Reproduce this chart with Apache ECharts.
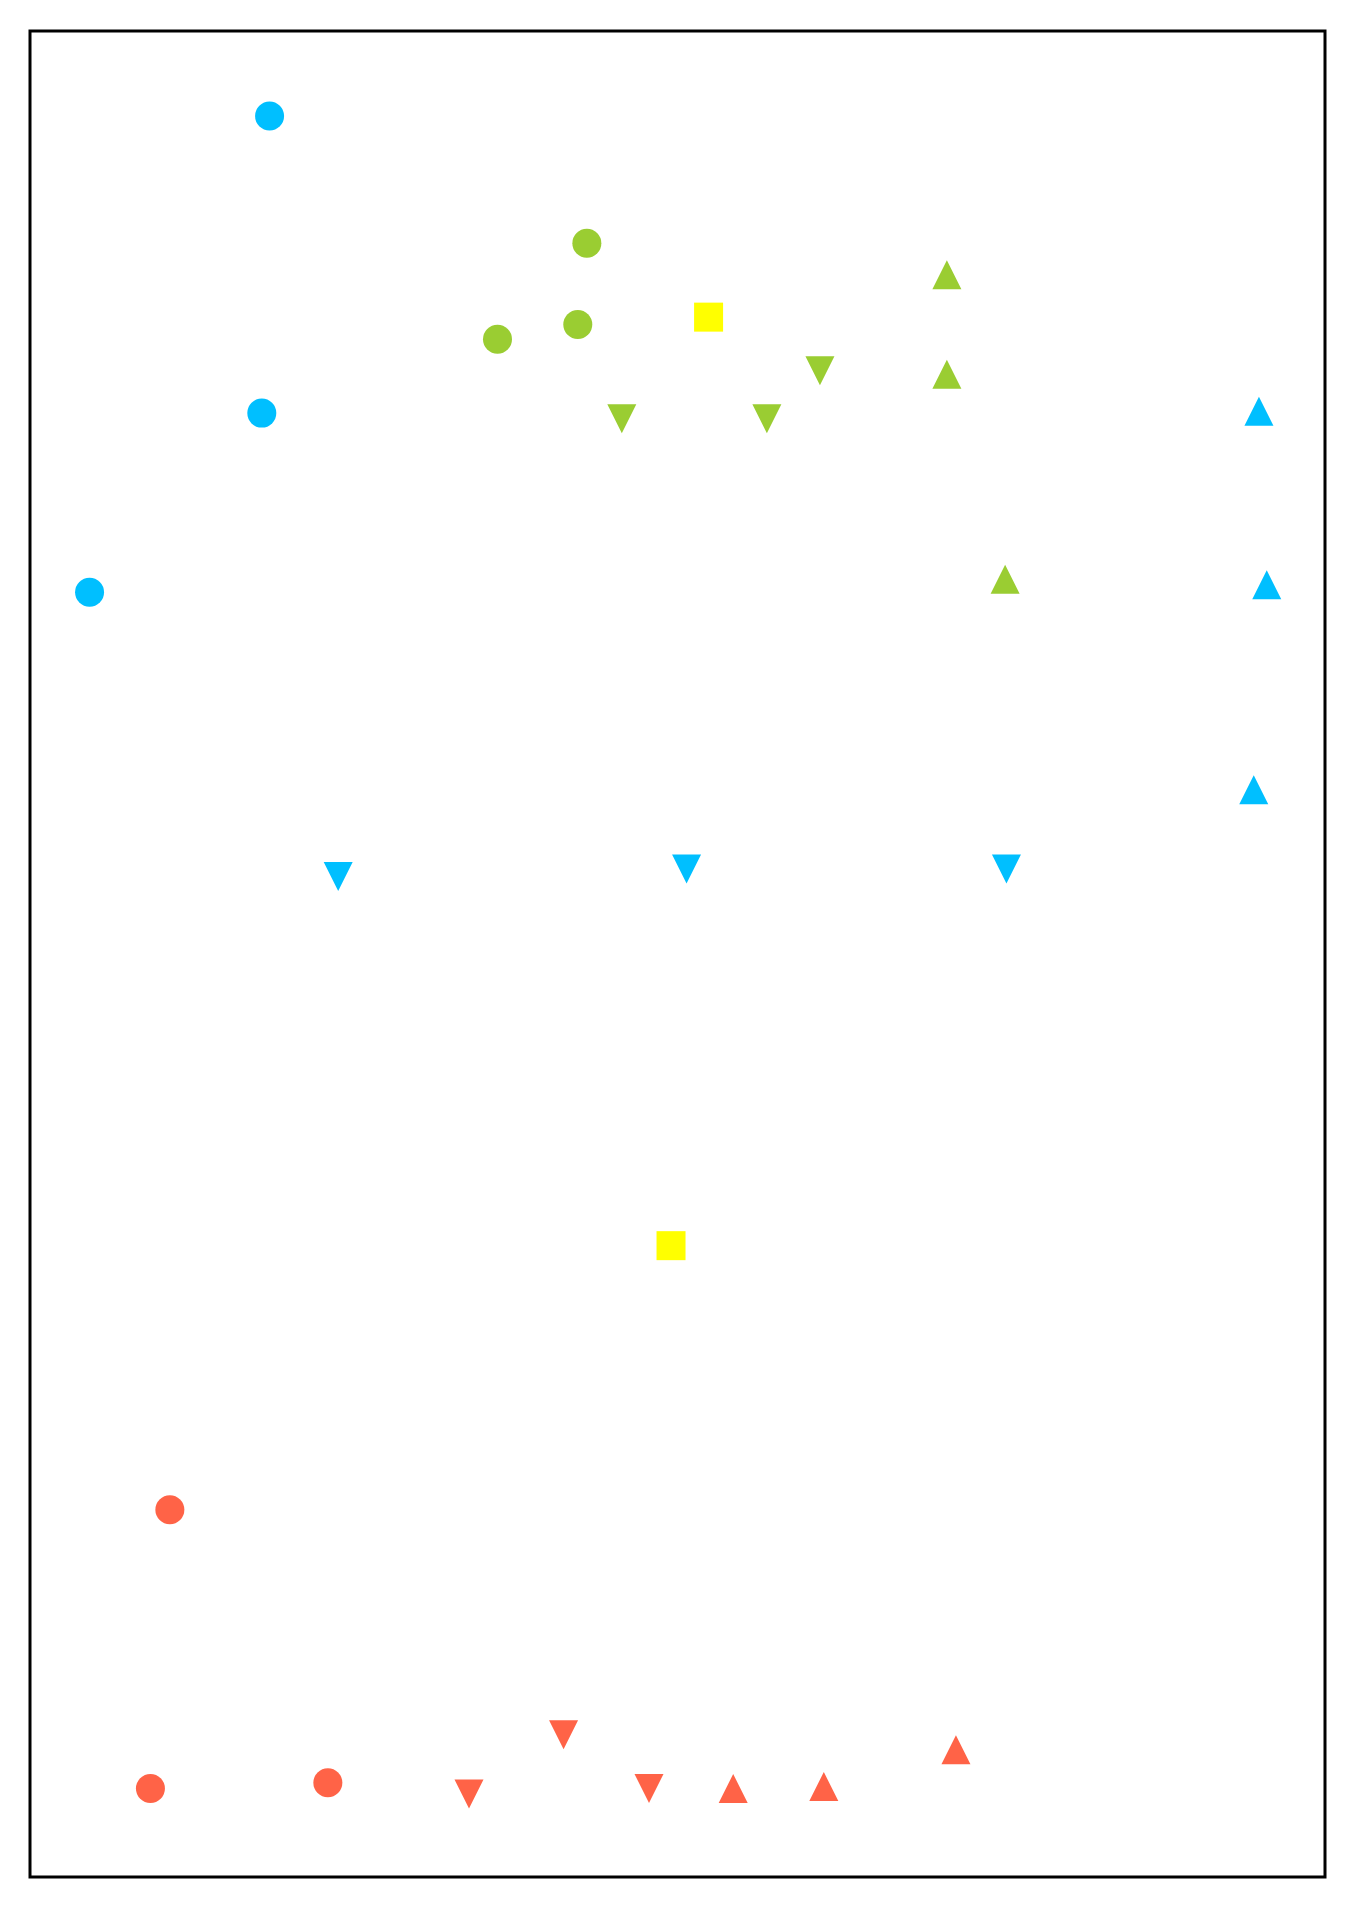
<!DOCTYPE html>
<html>
<head>
<meta charset="utf-8">
<script src="https://cdn.jsdelivr.net/npm/echarts@6/dist/echarts.min.js"></script>
<style>
  html, body { margin: 0; padding: 0; background: #fff; }
  #main { width: 1355px; height: 1908px; }
</style>
</head>
<body>
<div id="main"></div>
<script>
// points as [x, y], axes run 0..100
var blueCircles = [[18.5, 95.4], [17.9, 79.3], [4.6, 69.6]];
var blueUp = [[94.9, 79.4], [95.5, 70.0], [94.5, 58.9]];
var blueDown = [[23.8, 54.2], [50.7, 54.6], [75.4, 54.6]];

var greenCircles = [[43.0, 88.5], [36.1, 83.3], [42.3, 84.1]];
var greenUp = [[70.8, 86.8], [70.8, 81.4], [75.3, 70.3]];
var greenDown = [[45.7, 79.0], [56.9, 79.0], [61.0, 81.6]];

var redCircles = [[10.8, 19.9], [9.3, 4.8], [23.0, 5.1]];
var redUp = [[54.3, 4.8], [61.3, 4.9], [71.5, 6.9]];
var redDown = [[33.9, 4.5], [41.2, 7.7], [47.8, 4.8]];

var yellowSquares = [[52.4, 84.5], [49.5, 34.2]];

var chart = echarts.init(document.getElementById('main'));

function pts(data, color, symbol, rotate) {
    return {
        type: 'scatter',
        data: data,
        symbol: symbol,
        symbolSize: 29,
        symbolRotate: rotate || 0,
        itemStyle: { color: color, opacity: 1 },
        emphasis: { disabled: true },
        silent: true
    };
}

var option = {
    animation: false,
    backgroundColor: '#fff',
    grid: {
        left: 30, right: 30, top: 31, bottom: 31,
        show: true,
        borderColor: '#000',
        borderWidth: 3,
        backgroundColor: '#fff'
    },
    xAxis: {
        type: 'value', min: 0, max: 100,
        axisLine: { show: false }, axisTick: { show: false },
        axisLabel: { show: false }, splitLine: { show: false }
    },
    yAxis: {
        type: 'value', min: 0, max: 100,
        axisLine: { show: false }, axisTick: { show: false },
        axisLabel: { show: false }, splitLine: { show: false }
    },
    series: [
        pts(blueCircles, '#00BFFF', 'circle'),
        pts(blueUp, '#00BFFF', 'triangle'),
        pts(blueDown, '#00BFFF', 'triangle', 180),
        pts(greenCircles, '#9ACD32', 'circle'),
        pts(greenUp, '#9ACD32', 'triangle'),
        pts(greenDown, '#9ACD32', 'triangle', 180),
        pts(redCircles, '#FF6347', 'circle'),
        pts(redUp, '#FF6347', 'triangle'),
        pts(redDown, '#FF6347', 'triangle', 180),
        pts(yellowSquares, '#FFFF00', 'rect')
    ]
};

chart.setOption(option);
</script>
</body>
</html>
